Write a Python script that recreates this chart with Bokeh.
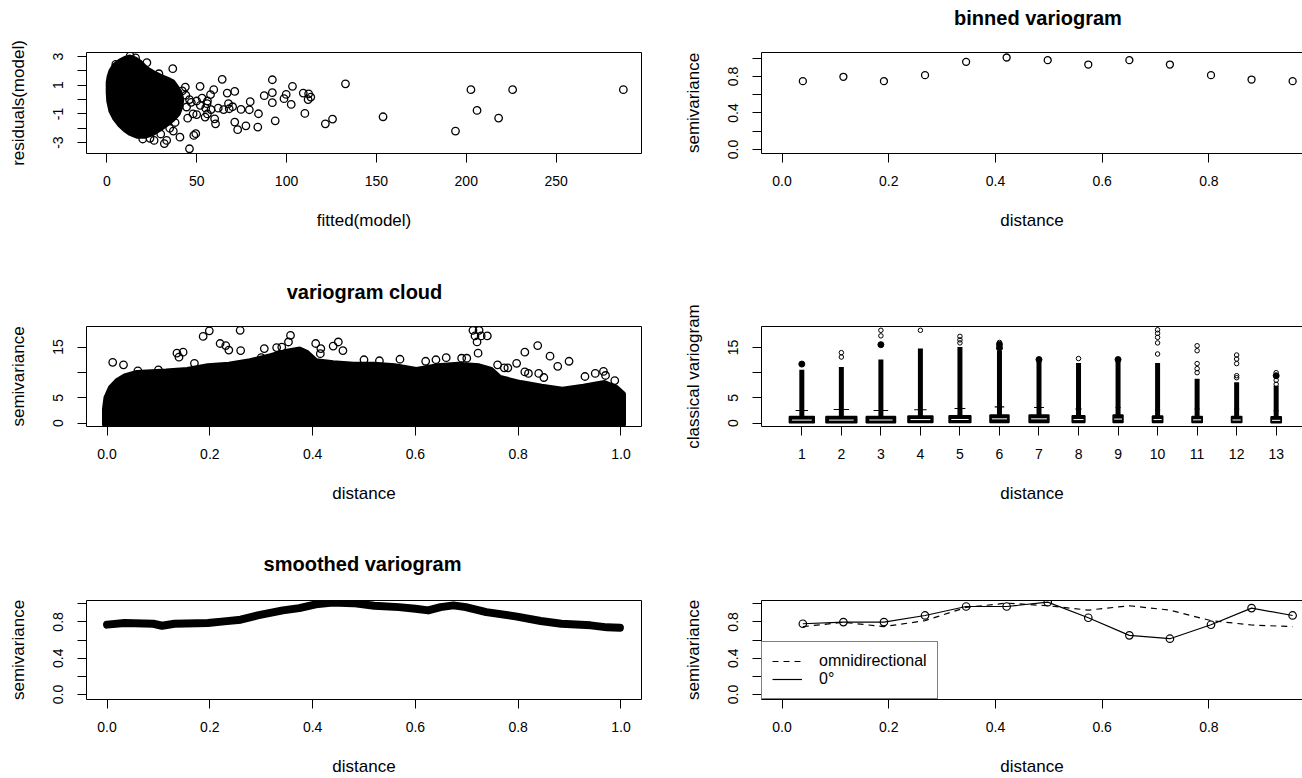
from bokeh.plotting import figure
from bokeh.layouts import row, column
from bokeh.models import (FixedTicker, LinearAxis, Range1d, Legend, LegendItem,
                          CustomJSTickFormatter)
from bokeh.core.properties import value
from bokeh.embed import file_html
from bokeh.resources import INLINE

FONT = "Liberation Sans"

# ---------------- data ----------------
# panel 1: residuals vs fitted (dense core as outline polygon + sparse points)
resid_blob_fitted = [0.8, 0.5, 0.5, 1, 2, 4, 7, 10, 13, 16, 19, 22, 26, 30, 34, 37, 39, 41, 42,
                     41.5, 40, 37, 33, 29, 25, 21, 17, 13, 10, 7, 4, 2]
resid_blob_resid = [-0.1, 0.5, 1.2, 1.6, 2.0, 2.4, 2.7, 2.9, 3.0, 2.85, 2.6, 2.2, 1.9, 1.65, 1.45,
                    1.25, 0.9, 0.5, 0.0, -0.5, -1.0, -1.4, -1.8, -2.15, -2.45, -2.6, -2.6, -2.4,
                    -2.15, -1.8, -1.3, -0.8]
resid_fitted = [287.4, 225.8, 202.6, 206, 218, 194, 153.7, 132.8, 125.6, 121.6, 110.2, 113.5, 112,
                112.3, 109.3, 103.3, 102.6, 99.8, 98.6, 92.1, 92.1, 92.1, 93.7, 87.6, 84.4, 84,
                79.8, 79.3, 77.4, 74.7, 72.8, 71.2, 71.2, 67, 67.7, 68.1, 64.2, 60.5, 60, 59.5,
                57.7, 55.8, 54.7, 51.9, 49.5, 48.4, 46, 40.7, 43.7, 44.4, 47, 50, 52, 55, 58, 62,
                65, 70, 48, 50, 45, 56, 42, 44, 46, 53, 56, 33.3, 32, 26.3, 22.3, 36.7, 29, 38,
                37, 35, 30, 24, 20, 9, 5, 16, 13]
resid_values = [0.69, 0.69, 0.69, -0.76, -1.29, -2.2, -1.2, 1.1, -1.36, -1.69, -0.97, 0.17, 0.0,
                0.4, 0.45, 0.92, -0.34, 0.36, 0.06, 1.38, 0.48, -0.22, -1.48, 0.27, -0.99, -1.92,
                -0.15, -0.71, -1.83, -0.69, -2.1, -1.57, 0.57, 0.45, -0.29, -0.64, 1.41, -1.69,
                -1.34, 0.69, 0.34, -0.29, -1.22, 0.92, -2.38, -2.5, -3.43, -2.62, 0.87, -0.52,
                -0.2, -0.1, -0.4, -0.6, -0.7, -0.6, -0.7, -0.5, -1.0, -1.05, -1.3, -1.0, 0.6, 0.3,
                0.0, 0.1, -0.1, -2.85, -3.07, -2.85, 2.57, 2.15, 1.8, -1.6, -2.2, -2.0, -2.4,
                -2.7, -2.75, 2.6, 2.45, 2.9, 3.05]
fitted_ticks = [0, 50, 100, 150, 200, 250]
fitted_labels = ["0", "50", "100", "150", "200", "250"]
resid_ticks = [-3, -2, -1, 0, 1, 2, 3]
resid_labels = ["-3", "", "-1", "", "1", "", "3"]

# panel 2 / 6: binned variogram
lag_dist = [0.039, 0.115, 0.191, 0.268, 0.345, 0.421, 0.498, 0.574, 0.651, 0.727, 0.804, 0.880, 0.957]
binned_gamma = [0.748, 0.796, 0.748, 0.814, 0.96, 1.007, 0.978, 0.93, 0.978, 0.93, 0.814, 0.766, 0.748]
dir0_gamma = [0.78, 0.798, 0.798, 0.871, 0.97, 0.97, 1.018, 0.846, 0.652, 0.615, 0.769, 0.952, 0.871]
semi_ticks = [0.0, 0.2, 0.4, 0.6, 0.8, 1.0]
semi_labels = ["0.0", "", "0.4", "", "0.8", ""]
dist_ticks = [0.0, 0.2, 0.4, 0.6, 0.8, 1.0]
dist_labels = ["0.0", "0.2", "0.4", "0.6", "0.8", "1.0"]

# panel 3: variogram cloud (dense envelope + sparse points)
cloud_env_dist = [-0.006, -0.006, -0.003, 0.006, 0.018, 0.034, 0.058, 0.115, 0.156, 0.196, 0.237,
                  0.278, 0.318, 0.35, 0.375, 0.39, 0.407, 0.44, 0.48, 0.52, 0.56, 0.602, 0.643,
                  0.683, 0.724, 0.748, 0.765, 0.805, 0.846, 0.886, 0.927, 0.968, 0.992, 1.006, 1.006]
cloud_env_gamma = [-0.4, 2.8, 5.1, 7.1, 8.4, 9.4, 10.1, 10.4, 10.7, 11.4, 11.7, 12.4, 13.4, 14.3,
                   14.7, 14.0, 12.4, 12.0, 11.7, 11.7, 11.4, 10.7, 11.4, 11.7, 11.4, 10.7, 9.1, 8.1,
                   7.4, 6.8, 7.4, 8.1, 7.1, 5.8, -0.4]
cloud_dist = [0.011, 0.032, 0.136, 0.14, 0.148, 0.187, 0.199, 0.259, 0.22, 0.231, 0.237, 0.26,
              0.306, 0.357, 0.353, 0.406, 0.416, 0.415, 0.45, 0.44, 0.459, 0.712, 0.724, 0.716,
              0.728, 0.74, 0.72, 0.722, 0.813, 0.838, 0.862, 0.877, 0.899, 0.797, 0.773, 0.966,
              0.988, 0.813,
              0.5, 0.53, 0.57, 0.62, 0.64, 0.66, 0.69, 0.70, 0.76, 0.78, 0.82, 0.84, 0.85, 0.93,
              0.95, 0.97, 0.06, 0.10, 0.17, 0.30, 0.33, 0.34]
cloud_gamma = [12.0, 11.5, 13.8, 13.0, 14.0, 17.1, 18.2, 18.3, 15.7, 15.3, 14.4, 14.3, 14.7, 17.3,
               16.0, 15.7, 14.7, 13.7, 16.0, 15.2, 14.3, 18.3, 18.3, 17.2, 17.2, 17.2, 16.0, 13.8,
               14.0, 15.3, 13.2, 11.2, 12.2, 11.8, 10.9, 10.2, 8.4, 10.1,
               12.5, 12.3, 12.6, 12.2, 12.5, 12.9, 12.8, 12.8, 11.5, 10.9, 9.8, 9.8, 9.0, 9.2,
               9.8, 9.4, 10.3, 10.5, 11.8, 12.9, 14.9, 15.0]
cloud_ticks = [0, 5, 10, 15]
cloud_labels = ["0", "5", "", "15"]

# panel 4: classical variogram boxplots per lag class
lag_class = [1, 2, 3, 4, 5, 6, 7, 8, 9, 10, 11, 12, 13]
class_labels = [str(c) for c in lag_class]
box_rel_width = [0.63, 0.78, 0.74, 0.63, 0.55, 0.48, 0.5, 0.32, 0.25, 0.26, 0.26, 0.26, 0.26]
box_q1 = [0.08, 0.08, 0.08, 0.1, 0.1, 0.12, 0.12, 0.1, 0.12, 0.1, 0.1, 0.1, 0.08]
box_med = [0.6, 0.6, 0.62, 0.7, 0.72, 0.85, 0.85, 0.7, 0.8, 0.7, 0.65, 0.62, 0.55]
box_q3 = [1.3, 1.3, 1.3, 1.4, 1.45, 1.6, 1.6, 1.45, 1.6, 1.4, 1.3, 1.3, 1.25]
whisker_hi = [2.5, 2.7, 2.5, 2.65, 2.9, 3.2, 3.1, 2.8, 3.1, 2.65, 2.8, 2.8, 2.45]
dense_out_top = [10.6, 11.1, 12.6, 14.8, 15.1, 14.3, 12.6, 11.9, 12.4, 11.9, 8.8, 8.1, 7.4]
cluster_class = [1, 3, 6, 6, 7, 9, 13]
cluster_value = [11.7, 15.55, 15.6, 14.9, 12.6, 12.6, 9.4]
out_class = [2, 2, 3, 3, 4, 5, 5, 5, 6, 8, 10, 10, 10, 10, 10, 11, 11, 11, 11, 11,
             12, 12, 12, 12, 12, 13, 13, 13, 13]
out_value = [13.1, 13.97, 17.3, 18.4, 18.4, 15.9, 16.5, 17.2, 16.0, 12.8, 13.7, 15.9, 17.0, 17.8,
             18.5, 10.0, 10.8, 11.8, 14.35, 15.34, 9.0, 9.4, 11.8, 12.7, 13.5, 7.7, 8.5, 9.4, 10.0]

# panel 5: smoothed variogram
smooth_dist = [0.0, 0.034, 0.09, 0.107, 0.131, 0.196, 0.228, 0.26, 0.293, 0.342, 0.374, 0.406,
               0.439, 0.479, 0.52, 0.568, 0.6, 0.625, 0.649, 0.674, 0.698, 0.738, 0.795, 0.844,
               0.884, 0.941, 0.973, 0.998]
smooth_gamma = [0.77, 0.788, 0.78, 0.758, 0.78, 0.788, 0.806, 0.824, 0.872, 0.927, 0.952, 0.993,
                1.015, 1.007, 0.978, 0.963, 0.945, 0.927, 0.963, 0.982, 0.963, 0.908, 0.861,
                0.81, 0.78, 0.762, 0.74, 0.736]

# panel titles
titles = ["binned variogram", "variogram cloud", "smoothed variogram"]


# ---------------- helpers ----------------
def fmt(tick_vals, tick_text):
    return CustomJSTickFormatter(args=dict(tv=list(tick_vals), tt=list(tick_text)), code="""
        for (let i = 0; i < tv.length; i++) {
            if (Math.abs(tick - tv[i]) < 1e-9) { return tt[i]; }
        }
        return "";
    """)


LEFT_W, RIGHT_W = 676, 626
LEFT_FRAME = (86, 641)      # page x of the left-column plot frames
RIGHT_FRAME = (761, 1302)   # page x of the right-column plot frames (cut at window edge)


def title_strip(width, height, text, frame_span, cx):
    # the strip's frame is aligned by the column layout with the plot frame below it,
    # so its x range is expressed in page pixels of that frame
    t = figure(width=width, height=height, x_range=Range1d(*frame_span),
               y_range=Range1d(0, height),
               output_backend="svg", toolbar_location=None, x_axis_type=None, y_axis_type=None,
               min_border_left=0, min_border_right=0, min_border_top=0, min_border_bottom=0)
    t.grid.visible = False
    t.outline_line_color = None
    t.background_fill_color = "white"
    t.border_fill_color = "white"
    t.text(x=[cx], y=[height / 2], text=[text], text_font=value(FONT),
           text_font_size=value("20px"), text_font_style="bold", text_color="black",
           text_align="center", text_baseline="middle")
    return t


def panel(col, row_h, top, bottom, xr, yr, xt, xl, yt, yl, xtitle, ytitle):
    if col == 0:
        w, ml, mr = LEFT_W, LEFT_FRAME[0], LEFT_W - LEFT_FRAME[1]
    else:
        w, ml, mr = RIGHT_W, RIGHT_FRAME[0] - LEFT_W, 0
    p = figure(width=w, height=row_h, x_range=Range1d(*xr), y_range=Range1d(*yr),
               output_backend="svg", toolbar_location=None,
               min_border_left=ml, min_border_right=mr,
               min_border_top=top, min_border_bottom=bottom)
    p.grid.visible = False
    p.background_fill_color = "white"
    p.border_fill_color = "white"
    xa, ya = p.below[0], p.left[0]
    for ax, t, l, name in ((xa, xt, xl, xtitle), (ya, yt, yl, ytitle)):
        ax.ticker = FixedTicker(ticks=t)
        ax.formatter = fmt(t, l)
        ax.minor_tick_line_color = None
        ax.major_tick_in = 0
        ax.major_tick_out = 9
        ax.major_tick_line_color = "black"
        ax.major_label_text_font = FONT
        ax.major_label_text_font_size = "14px"
        ax.major_label_text_color = "black"
        ax.axis_label = name
        ax.axis_label_text_font = FONT
        ax.axis_label_text_font_size = "17px"
        ax.axis_label_text_font_style = "normal"
        ax.axis_label_text_color = "black"
    xa.major_label_standoff = 13
    xa.axis_label_standoff = 22
    ya.major_label_orientation = "vertical"
    ya.major_label_standoff = 14
    ya.axis_label_standoff = 23
    if col == 0:
        p.outline_line_color = "black"
        p.outline_line_width = 1
        xa.axis_line_color = None
        ya.axis_line_color = None
    else:
        p.outline_line_color = None
        xa.axis_line_color = "black"
        ya.axis_line_color = "black"
        top_ax = LinearAxis(ticker=FixedTicker(ticks=[]), major_tick_in=0, major_tick_out=0,
                            minor_tick_in=0, minor_tick_out=0, major_label_standoff=0,
                            major_label_text_font_size="0px",
                            axis_line_color="black", axis_line_width=1)
        p.add_layout(top_ax, "above")
    return p


# ---------------- panel 1 ----------------
p1 = panel(0, 272, 52, 119, (-11.3, 297.5), (-3.76, 3.28), fitted_ticks, fitted_labels,
           resid_ticks, resid_labels, "fitted(model)", "residuals(model)")
p1.patch(resid_blob_fitted, resid_blob_resid, fill_color="black", line_color="black", line_width=4)
p1.scatter(resid_fitted, resid_values, marker="circle", size=7.5, fill_color=None,
           line_color="black", line_width=1.3)

# ---------------- panel 2 ----------------
t2 = title_strip(RIGHT_W, 35, titles[0], RIGHT_FRAME, 1037.5)
p2 = panel(1, 237, 17, 119, (-0.0385, 0.9755), (-0.044, 1.062), dist_ticks, dist_labels,
           semi_ticks, semi_labels, "distance", "semivariance")
p2.scatter(lag_dist, binned_gamma, marker="circle", size=7, fill_color=None,
           line_color="black", line_width=1.3)

# ---------------- panel 3 ----------------
t3 = title_strip(LEFT_W, 38, titles[1], LEFT_FRAME, 364)
p3 = panel(0, 234, 16, 118, (-0.04, 1.04), (-0.65, 19.05), dist_ticks, dist_labels,
           cloud_ticks, cloud_labels, "distance", "semivariance")
p3.patch(cloud_env_dist, cloud_env_gamma, fill_color="black", line_color="black", line_width=4)
p3.scatter(cloud_dist, cloud_gamma, marker="circle", size=7.5, fill_color=None,
           line_color="black", line_width=1.3)

# ---------------- panel 4 ----------------
p4 = panel(1, 272, 54, 118, (-0.02, 13.666), (-0.67, 19.15), lag_class, class_labels,
           cloud_ticks, cloud_labels, "distance", "classical variogram")
half = [w / 2 for w in box_rel_width]
quarter = [w / 4 for w in box_rel_width]
p4.segment(lag_class, box_q3, lag_class, dense_out_top, line_color="black", line_width=5)
p4.segment([c - q for c, q in zip(lag_class, quarter)], whisker_hi,
           [c + q for c, q in zip(lag_class, quarter)], whisker_hi, line_color="black", line_width=1.2)
p4.quad(left=[c - h for c, h in zip(lag_class, half)], right=[c + h for c, h in zip(lag_class, half)],
        bottom=box_q1, top=box_q3, fill_color="black", line_color="black", line_width=1.5)
p4.segment([c - 0.8 * h for c, h in zip(lag_class, half)], box_med,
           [c + 0.8 * h for c, h in zip(lag_class, half)], box_med, line_color="white", line_width=1)
p4.scatter(cluster_class, cluster_value, marker="circle", size=6, fill_color="black",
           line_color="black")
p4.scatter(out_class, out_value, marker="circle", size=4.5, fill_color=None,
           line_color="black", line_width=1)

# ---------------- panel 5 ----------------
t5 = title_strip(LEFT_W, 38, titles[2], LEFT_FRAME, 362)
p5 = panel(0, 196, 18, 79, (-0.04, 1.04), (-0.055, 1.036), dist_ticks, dist_labels,
           semi_ticks, semi_labels, "distance", "semivariance")
p5.line(smooth_dist, smooth_gamma, line_color="black", line_width=8, line_cap="round",
        line_join="round")

# ---------------- panel 6 ----------------
p6 = panel(1, 234, 56, 79, (-0.0385, 0.9755), (-0.055, 1.036), dist_ticks, dist_labels,
           semi_ticks, semi_labels, "distance", "semivariance")
r_omni = p6.line(lag_dist, binned_gamma, line_color="black", line_width=1.2, line_dash="6 5")
r_dir = p6.line(lag_dist, dir0_gamma, line_color="black", line_width=1.2)
p6.scatter(lag_dist, dir0_gamma, marker="circle", size=7.5, fill_color=None,
           line_color="black", line_width=1.2)
legend = Legend(items=[LegendItem(label="omnidirectional", renderers=[r_omni]),
                       LegendItem(label="0°", renderers=[r_dir])],
                location=(0, 0), margin=0, padding=10, spacing=0, label_standoff=17,
                glyph_width=30, glyph_height=18, label_height=18,
                label_text_font=FONT, label_text_font_size="16px", label_text_color="black",
                border_line_color="black", border_line_width=1,
                background_fill_color="white", background_fill_alpha=1.0)
p6.add_layout(legend)

layout = column(row(p1, column(t2, p2)),
                row(column(t3, p3), p4),
                row(column(t5, p5), p6))
open("out.html", "w").write(file_html(layout, INLINE))
